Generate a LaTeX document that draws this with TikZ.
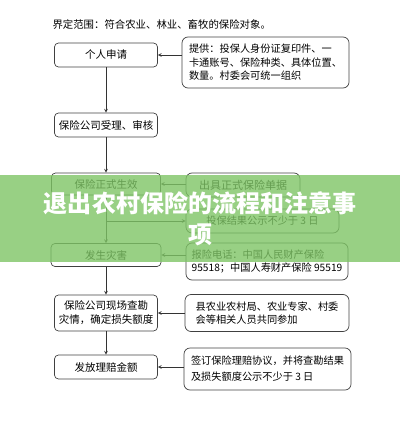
\documentclass[tikz,border=0pt]{standalone}
\usepackage{fontspec}
\newfontfamily\cjk{Noto Sans CJK SC}
\usepackage{tikz}
\usetikzlibrary{positioning, arrows, shapes}
\definecolor{bandgreen}{RGB}{126,196,101}
\tikzstyle{stage} = [rectangle, rounded corners=4bp, minimum width=103bp, minimum height=24bp, text centered, align=center, draw=black!75, line width=0.7bp, font=\cjk\fontsize{10.5bp}{14bp}\selectfont]
\tikzstyle{remark} = [rectangle, rounded corners=6bp, minimum width=165bp, minimum height=24bp, align=left, draw=black!75, line width=0.7bp, font=\cjk\fontsize{10.2bp}{13.5bp}\selectfont]
\tikzstyle{arrow} = [line width=0.7bp, draw=black!80, ->, >=stealth]

\begin{document}
\begin{tikzpicture}[x=1bp, y=-1bp, node distance=60bp]
        \useasboundingbox (0,0) rectangle (400,438);
        \node (range) [anchor=west, font=\cjk\fontsize{10.4bp}{13bp}\selectfont] at (49,25) {界定范围：符合农业、林业、畜牧的保险对象。};

        \node (shenqing) [stage] at (106,55) {个人申请};
        \node (shouli) [stage, below of=shenqing, yshift=-10bp] {保险公司受理、审核};
        \node (shengxiao) [stage, below of=shouli, yshift=1bp, minimum width=109bp, minimum height=22bp] {保险正式生效};
        \node (zaihai) [stage, below of=shengxiao, yshift=-11bp, minimum width=110bp, minimum height=23bp] {发生灾害};
        \node (kancha) [stage, below of=zaihai, yshift=2bp, minimum height=36bp] {保险公司现场查勘\\灾情，确定损失额度};
        \node (fafang) [stage, below of=kancha, yshift=6bp] {发放理赔金额};

        \node (tigong) [remark, right of=shenqing, xshift=99.5bp, yshift=-7.5bp, minimum width=167bp, minimum height=51bp] {提供：投保人身份证复印件、一\\卡通账号、保险种类、具体位置、\\数量。村委会可统一组织};
        \node (danju) [remark, right of=shengxiao, xshift=77bp, yshift=-1bp, minimum width=114bp, font=\cjk\fontsize{11bp}{14bp}\selectfont] {出具正式保险单据};
        \node (gongshi) [remark, right of=shengxiao, xshift=96.5bp, yshift=-37bp, minimum width=153bp] {投保结果公示不少于 3 日};
        \node (baoxian) [remark, right of=zaihai, xshift=101bp, yshift=-6.5bp, minimum width=162bp, minimum height=37bp] {报险电话：中国人民财产保险\\95518；中国人寿财产保险 95519};
        \node (xiangnong) [remark, right of=kancha, xshift=101bp, minimum width=164bp, minimum height=37bp] {县农业农村局、农业专家、村委\\会等相关人员共同参加};
        \node (qianding) [remark, right of=fafang, xshift=101.5bp, yshift=-2bp, minimum width=167bp, minimum height=42bp, font=\cjk\fontsize{10.2bp}{16bp}\selectfont] {签订保险理赔协议，并将查勘结果\\及损失额度公示不少于 3 日};

        \draw [arrow] (tigong.west |- shenqing.east) -- (shenqing.east);
        \draw [arrow] (shenqing) -- (shouli);
        \draw [arrow] (shouli) -- (shengxiao);
        \draw [arrow] (danju.west |- shengxiao.east) -- (shengxiao.east);
        \draw [arrow] (shengxiao) -- (zaihai);
        \draw [arrow] (shengxiao.south |- gongshi.west) -- (gongshi.west);
        \draw [arrow] (baoxian.west |- zaihai.east) -- (zaihai.east);
        \draw [arrow] (zaihai) -- (kancha);
        \draw [arrow] (xiangnong.west |- kancha.east) -- (kancha.east);
        \draw [arrow] (kancha) -- (fafang);
        \draw [arrow] (qianding.west |- fafang.east) -- (fafang.east);

        % title band over the chart
        \fill [bandgreen, opacity=0.8] (0,175) rectangle (400,262);
        \node (title) [white, align=center, font=\cjk\bfseries\fontsize{24bp}{31bp}\selectfont] at (200,218.5) {退出农村保险的流程和注意事\\项};
\end{tikzpicture}
\end{document}
